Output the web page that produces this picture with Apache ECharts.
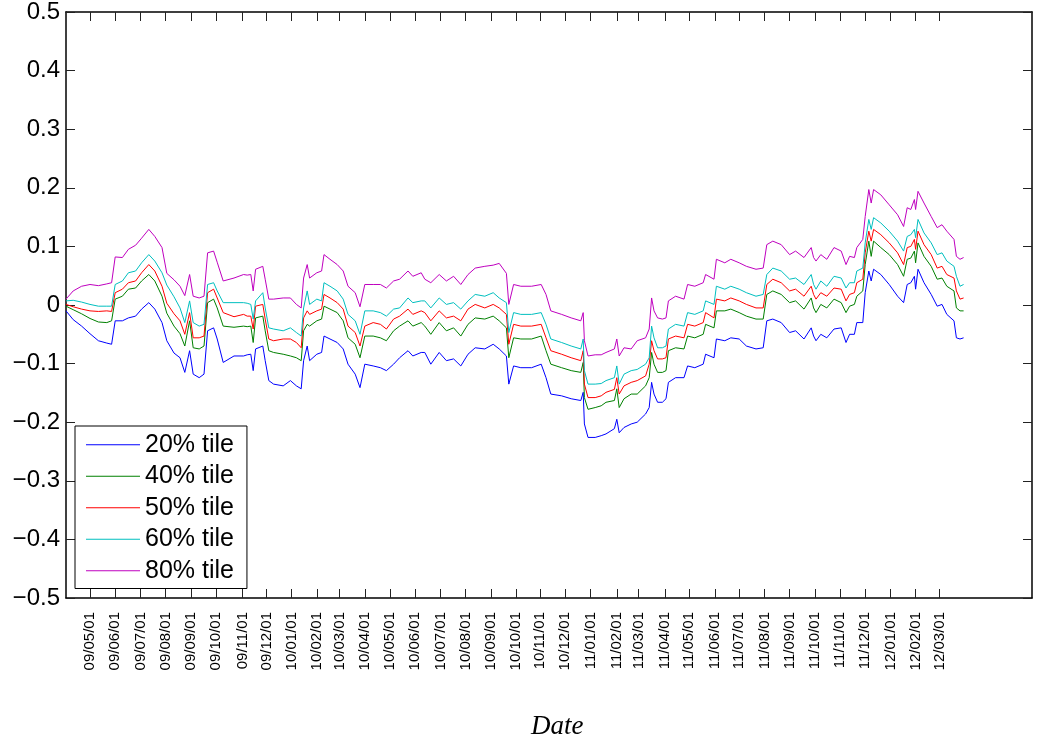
<!DOCTYPE html>
<html>
<head>
<meta charset="utf-8">
<script src="https://cdn.jsdelivr.net/npm/echarts@6/dist/echarts.min.js"></script>
<style>html,body{margin:0;padding:0;background:#fff}#c{width:1044px;height:742px}</style>
</head>
<body>
<div id="c"></div>
<script>
// trading-day index of each sample
const dayIndex = [0,6,13,20,27,34,38,41,47,52,58,63,69,74,80,84,90,95,99,103,106,111,115,118,123,126,131,140,148,
151,154,156,158,164,166,169,173,181,187,192,196,198,201,203,209,213,215,220,226,231,235,241,245,249,256,262,267,273,278,285,289,296,
299,304,311,317,323,329,335,341,349,356,361,367,369,373,379,388,396,400,404,413,421,429,431,432,435,441,
446,450,457,459,461,465,471,476,483,486,488,490,493,497,500,502,508,515,518,524,531,533,540,542,549,554,561,567,575,581,584,589,
596,603,608,615,621,623,625,629,634,640,646,650,653,657,659,664,666,669,671,673,679,686,693,698,701,704,707,708,710,715,721,726,730,734,740,742,745,748];

// month-start ticks (trading-day index) and their labels
const tickIdx = [20,41,62,83,104,125,147,167,188,209,228,249,270,291,312,333,354,375,395,416,437,459,477,499,519,541,561,582,603,624,645,666,687,708,728];
const tickLabels = ['09/05/01','09/06/01','09/07/01','09/08/01','09/09/01','09/10/01','09/11/01','09/12/01','10/01/01','10/02/01','10/03/01','10/04/01','10/05/01','10/06/01','10/07/01','10/08/01','10/09/01','10/10/01','10/11/01','10/12/01','11/01/01','11/02/01','11/03/01','11/04/01','11/05/01','11/06/01','11/07/01','11/08/01','11/09/01','11/10/01','11/11/01','11/12/01','12/01/01','12/02/01','12/03/01'];

const seriesNames = ['20% tile','40% tile','50% tile','60% tile','80% tile'];

const p20 = [-0.010,-0.025,-0.036,-0.049,-0.061,-0.065,-0.067,-0.027,-0.027,-0.022,-0.019,-0.007,0.004,-0.007,-0.030,-0.061,-0.082,-0.090,-0.115,-0.078,-0.118,-0.124,-0.118,-0.044,-0.039,-0.058,-0.098,-0.087,-0.087,
-0.085,-0.084,-0.112,-0.075,-0.070,-0.095,-0.129,-0.135,-0.138,-0.129,-0.138,-0.143,-0.095,-0.070,-0.095,-0.084,-0.081,-0.053,-0.058,-0.064,-0.075,-0.101,-0.118,-0.141,-0.101,-0.104,-0.107,-0.112,-0.101,-0.090,-0.078,-0.087,-0.081,
-0.081,-0.101,-0.081,-0.095,-0.092,-0.104,-0.084,-0.073,-0.075,-0.067,-0.075,-0.087,-0.135,-0.104,-0.107,-0.107,-0.101,-0.124,-0.152,-0.155,-0.160,-0.163,-0.149,-0.203,-0.226,-0.226,
-0.223,-0.220,-0.211,-0.195,-0.218,-0.209,-0.203,-0.200,-0.186,-0.175,-0.132,-0.152,-0.166,-0.166,-0.160,-0.132,-0.124,-0.124,-0.104,-0.107,-0.101,-0.084,-0.090,-0.058,-0.061,-0.056,-0.058,-0.070,-0.075,-0.073,-0.027,-0.024,
-0.030,-0.047,-0.044,-0.058,-0.039,-0.053,-0.061,-0.050,-0.056,-0.041,-0.039,-0.064,-0.050,-0.050,-0.030,-0.030,0.021,0.058,0.041,0.061,0.052,0.035,0.015,0.004,0.035,0.038,0.049,0.027,0.061,0.038,0.018,-0.002,0.001,-0.016,-0.027,-0.056,-0.058,-0.056];

const p40 = [-0.002,-0.008,-0.015,-0.023,-0.029,-0.030,-0.027,0.010,0.015,0.027,0.029,0.041,0.052,0.041,0.015,-0.014,-0.036,-0.049,-0.070,-0.027,-0.073,-0.075,-0.070,0.004,0.010,-0.005,-0.036,-0.038,-0.036,
-0.037,-0.036,-0.064,-0.022,-0.019,-0.044,-0.078,-0.081,-0.084,-0.087,-0.090,-0.095,-0.044,-0.033,-0.036,-0.027,-0.024,-0.002,-0.007,-0.013,-0.027,-0.056,-0.067,-0.090,-0.053,-0.053,-0.056,-0.061,-0.044,-0.036,-0.027,-0.036,-0.030,
-0.036,-0.050,-0.030,-0.044,-0.039,-0.053,-0.033,-0.022,-0.024,-0.019,-0.027,-0.039,-0.090,-0.056,-0.058,-0.058,-0.053,-0.078,-0.101,-0.107,-0.112,-0.115,-0.098,-0.158,-0.178,-0.175,
-0.172,-0.166,-0.163,-0.143,-0.175,-0.160,-0.152,-0.152,-0.138,-0.124,-0.081,-0.101,-0.115,-0.115,-0.112,-0.078,-0.073,-0.075,-0.053,-0.056,-0.050,-0.033,-0.039,-0.010,-0.010,-0.007,-0.013,-0.019,-0.024,-0.024,0.018,0.024,
0.018,0.004,0.007,-0.007,0.012,-0.005,-0.013,0.001,-0.005,0.010,0.004,-0.013,-0.002,0.001,0.015,0.024,0.069,0.109,0.083,0.109,0.098,0.086,0.069,0.049,0.078,0.080,0.092,0.072,0.106,0.083,0.066,0.044,0.046,0.032,0.024,-0.005,-0.010,-0.010];

const p50 = [0.001,-0.003,-0.007,-0.010,-0.011,-0.010,-0.011,0.021,0.027,0.038,0.041,0.055,0.069,0.058,0.032,0.003,-0.015,-0.027,-0.050,-0.013,-0.056,-0.056,-0.053,0.021,0.027,0.012,-0.013,-0.020,-0.016,
-0.019,-0.019,-0.041,-0.002,0.001,-0.024,-0.058,-0.061,-0.058,-0.058,-0.064,-0.073,-0.022,-0.010,-0.016,-0.010,-0.007,0.018,0.012,0.004,-0.007,-0.036,-0.047,-0.070,-0.036,-0.030,-0.033,-0.041,-0.024,-0.019,-0.007,-0.016,-0.010,
-0.013,-0.027,-0.010,-0.022,-0.019,-0.027,-0.007,0.001,-0.005,0.001,-0.005,-0.016,-0.067,-0.033,-0.036,-0.036,-0.033,-0.056,-0.078,-0.084,-0.090,-0.095,-0.078,-0.135,-0.158,-0.158,
-0.155,-0.149,-0.144,-0.124,-0.152,-0.138,-0.132,-0.129,-0.121,-0.101,-0.061,-0.078,-0.092,-0.092,-0.090,-0.058,-0.053,-0.056,-0.033,-0.036,-0.030,-0.013,-0.022,0.010,0.007,0.012,0.007,0.001,-0.005,-0.005,0.035,0.044,
0.038,0.024,0.027,0.015,0.032,0.018,0.010,0.021,0.015,0.029,0.027,0.007,0.018,0.021,0.038,0.044,0.089,0.126,0.109,0.129,0.120,0.106,0.089,0.069,0.098,0.100,0.112,0.095,0.126,0.103,0.086,0.063,0.066,0.052,0.046,0.024,0.010,0.012];

const p60 = [0.007,0.008,0.005,0.001,-0.002,-0.002,-0.002,0.035,0.041,0.055,0.058,0.072,0.086,0.075,0.055,0.034,0.014,-0.005,-0.030,0.007,-0.030,-0.036,-0.033,0.035,0.038,0.024,0.004,0.004,0.004,
0.003,0.001,-0.024,0.007,0.021,-0.005,-0.039,-0.041,-0.044,-0.039,-0.047,-0.053,-0.005,0.024,0.001,0.010,0.007,0.038,0.032,0.024,0.010,-0.016,-0.027,-0.050,-0.010,-0.010,-0.013,-0.019,-0.007,-0.005,0.012,0.004,0.007,
0.007,-0.005,0.012,0.001,0.004,-0.007,0.007,0.018,0.015,0.021,0.012,0.004,-0.047,-0.013,-0.016,-0.016,-0.013,-0.033,-0.058,-0.064,-0.070,-0.075,-0.058,-0.112,-0.135,-0.135,
-0.134,-0.129,-0.124,-0.104,-0.135,-0.118,-0.112,-0.110,-0.101,-0.090,-0.036,-0.056,-0.073,-0.073,-0.070,-0.041,-0.033,-0.036,-0.013,-0.016,-0.010,0.007,0.001,0.032,0.027,0.032,0.027,0.021,0.015,0.018,0.052,0.063,
0.058,0.044,0.046,0.035,0.052,0.035,0.027,0.041,0.032,0.049,0.046,0.029,0.038,0.038,0.058,0.063,0.106,0.146,0.129,0.149,0.140,0.126,0.109,0.092,0.117,0.120,0.129,0.115,0.146,0.123,0.106,0.086,0.089,0.075,0.066,0.049,0.032,0.035];

const p80 = [0.010,0.024,0.032,0.035,0.033,0.036,0.038,0.082,0.081,0.095,0.102,0.114,0.129,0.117,0.098,0.054,0.043,0.032,0.016,0.052,0.015,0.012,0.015,0.089,0.092,0.073,0.041,0.046,0.052,
0.051,0.052,0.024,0.061,0.066,0.044,0.010,0.010,0.012,0.012,0.001,-0.005,0.046,0.069,0.046,0.055,0.058,0.086,0.078,0.069,0.058,0.032,0.021,-0.003,0.035,0.035,0.035,0.029,0.041,0.044,0.058,0.049,0.055,
0.044,0.038,0.052,0.041,0.049,0.035,0.052,0.063,0.066,0.068,0.071,0.054,0.001,0.035,0.032,0.032,0.035,0.018,-0.010,-0.016,-0.022,-0.027,-0.013,-0.061,-0.087,-0.085,
-0.085,-0.081,-0.075,-0.058,-0.087,-0.073,-0.075,-0.061,-0.056,-0.041,0.012,-0.010,-0.022,-0.024,-0.022,0.007,0.015,0.010,0.035,0.032,0.038,0.052,0.044,0.078,0.072,0.078,0.072,0.066,0.061,0.063,0.103,0.109,
0.103,0.086,0.092,0.081,0.098,0.081,0.075,0.086,0.078,0.098,0.092,0.069,0.083,0.081,0.098,0.112,0.151,0.197,0.174,0.197,0.188,0.171,0.154,0.134,0.166,0.163,0.180,0.163,0.194,0.174,0.151,0.132,0.137,0.126,0.112,0.083,0.078,0.081];

const seriesValues = [p20, p40, p50, p60, p80];
const colors = ['#0000ff', '#008000', '#ff0000', '#00bfbf', '#bf00bf'];

const X_MAX = 805;
const FONT = '"Liberation Sans", Arial, Helvetica, sans-serif';

function yFmt(v) {
  const r = Math.round(v * 10) / 10;
  if (r === 0) return '0';
  return (r < 0 ? '\u2212' : '') + Math.abs(r).toFixed(1);
}
function xFmt(v) {
  const i = tickIdx.indexOf(Math.round(v));
  return i >= 0 ? tickLabels[i] : '';
}

const axisLineStyle = { color: '#000', width: 1.5 };
const tickStyle = { color: '#222', width: 1 };

const chart = echarts.init(document.getElementById('c'), null, { renderer: 'canvas' });
chart.setOption({
  animation: false,
  backgroundColor: '#fff',
  grid: { left: 66, right: 12, top: 10, bottom: 144, containLabel: false },
  xAxis: [
    {
      type: 'value', min: 0, max: X_MAX, position: 'bottom',
      axisLine: { show: true, onZero: false, lineStyle: axisLineStyle },
      axisTick: { show: true, inside: true, length: 9, customValues: tickIdx, lineStyle: tickStyle },
      axisLabel: { show: true, customValues: tickIdx, rotate: 90, margin: 14, formatter: xFmt,
        fontFamily: FONT, fontSize: 15, color: '#000' },
      splitLine: { show: false }
    },
    {
      type: 'value', min: 0, max: X_MAX, position: 'top',
      axisLine: { show: true, onZero: false, lineStyle: axisLineStyle },
      axisTick: { show: true, inside: true, length: 9, customValues: tickIdx, lineStyle: tickStyle },
      axisLabel: { show: false },
      splitLine: { show: false }
    }
  ],
  yAxis: [
    {
      type: 'value', min: -0.5, max: 0.5, interval: 0.1, position: 'left',
      axisLine: { show: true, onZero: false, lineStyle: axisLineStyle },
      axisTick: { show: true, inside: true, length: 9, lineStyle: tickStyle },
      axisLabel: { show: true, margin: 6, formatter: yFmt, fontFamily: FONT, fontSize: 24, color: '#000' },
      splitLine: { show: false }
    },
    {
      type: 'value', min: -0.5, max: 0.5, interval: 0.1, position: 'right',
      axisLine: { show: true, onZero: false, lineStyle: axisLineStyle },
      axisTick: { show: true, inside: true, length: 9, lineStyle: tickStyle },
      axisLabel: { show: false },
      splitLine: { show: false }
    }
  ],
  legend: {
    orient: 'vertical', left: 75, top: 426,
    data: seriesNames.map(n => ({ name: n, icon: 'rect' })),
    itemWidth: 54, itemHeight: 1.2, itemGap: 6,
    padding: [6, 13, 5, 11],
    backgroundColor: '#fff', borderColor: '#000', borderWidth: 1,
    textStyle: { fontFamily: FONT, fontSize: 25, color: '#000', lineHeight: 25.5 },
    selectedMode: false
  },
  graphic: [{
    type: 'text', left: 531, top: 713,
    style: { text: 'Date', font: 'italic 27px "Liberation Serif", "DejaVu Serif", serif', fill: '#000' }
  }],
  series: seriesNames.map((name, k) => ({
    name: name,
    type: 'line',
    xAxisIndex: 0, yAxisIndex: 0,
    data: dayIndex.map((d, i) => [d, seriesValues[k][i]]),
    symbol: 'none', showSymbol: false,
    lineStyle: { color: colors[k], width: 1 },
    itemStyle: { color: colors[k] },
    emphasis: { disabled: true },
    silent: true
  }))
});
</script>
</body>
</html>
